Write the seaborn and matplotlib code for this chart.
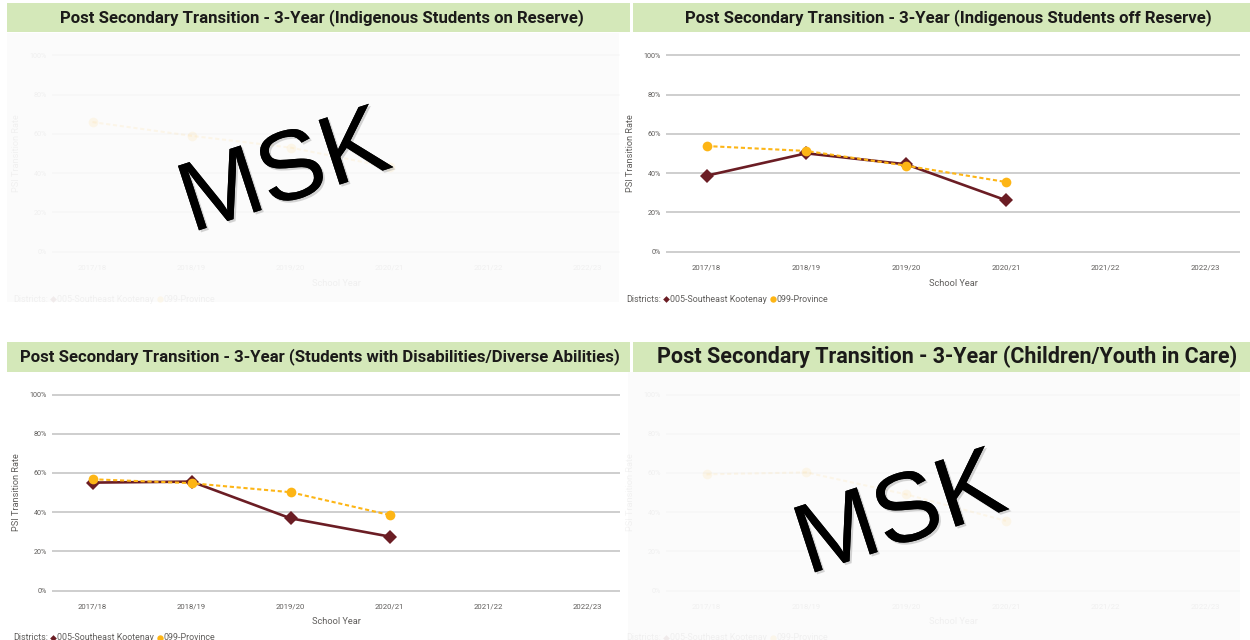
import numpy as np
import pandas as pd
import matplotlib
matplotlib.use("Agg")
import matplotlib.pyplot as plt
import seaborn as sns
from matplotlib import font_manager
from matplotlib.patches import Rectangle
from matplotlib.lines import Line2D
import matplotlib.patheffects as pe

# ---------------------------------------------------------------- data
years = ["2017/18", "2018/19", "2019/20", "2020/21", "2021/22", "2022/23"]
district_name = "005-Southeast Kootenay"
province_name = "099-Province"

on_reserve_district = [np.nan, np.nan, np.nan, np.nan, np.nan, np.nan]
on_reserve_province = [66.0, 59.0, 53.0, 43.0, np.nan, np.nan]

off_reserve_district = [38.7, 50.1, 44.5, 26.2, np.nan, np.nan]
off_reserve_province = [53.8, 51.3, 43.8, 35.5, np.nan, np.nan]

diverse_district = [55.1, 55.6, 36.9, 27.6, np.nan, np.nan]
diverse_province = [56.8, 54.8, 50.2, 38.6, np.nan, np.nan]

in_care_district = [np.nan, np.nan, np.nan, np.nan, np.nan, np.nan]
in_care_province = [59.3, 60.3, 49.1, 35.6, np.nan, np.nan]

y_ticks = [0, 20, 40, 60, 80, 100]
y_tick_labels = ["0%", "20%", "40%", "60%", "80%", "100%"]

titles = [
    "Post Secondary Transition - 3-Year (Indigenous Students on Reserve)",
    "Post Secondary Transition - 3-Year (Indigenous Students off Reserve)",
    "Post Secondary Transition - 3-Year (Students with Disabilities/Diverse Abilities)",
    "Post Secondary Transition - 3-Year (Children/Youth in Care)",
]
mask_label = "MSK"

# ---------------------------------------------------------------- style
MAROON = "#6b1d24"
GOLD = "#fdb515"
BAR = "#d4e8b9"
GRID = "#c6c6c6"
LABEL = "#605e5c"
TITLE_COL = "#1b1a19"
FADE_BG = "#fbfbfb"

sns.set_theme(style="white")
installed = {f.name for f in font_manager.fontManager.ttflist}
NARROW = "Liberation Sans Narrow" if "Liberation Sans Narrow" in installed else "Roboto"
plt.rcParams["font.family"] = [NARROW, "DejaVu Sans"]

W, H = 1250, 640
fig = plt.figure(figsize=(W / 100, H / 100), dpi=100)
fig.patch.set_facecolor("white")
renderer = fig.canvas.get_renderer()


def fx(px):
    return px / W


def fy(py):
    return 1 - py / H


def box(x0, y0, x1, y1, color, z=-1):
    fig.patches.append(Rectangle((fx(x0), fy(y1)), (x1 - x0) / W, (y1 - y0) / H,
                                 transform=fig.transFigure, facecolor=color,
                                 edgecolor="none", zorder=z))


def size_for(text, target_px, weight="normal"):
    t = fig.text(0, 0, text, fontsize=10, fontweight=weight)
    w = t.get_window_extent(renderer).width
    t.remove()
    return 10 * target_px / w


def text_width(t):
    return t.get_window_extent(renderer).width


TICK_FS = size_for("2017/18", 29)
YTICK_FS = size_for("100%", 17.5)
XLAB_FS = size_for("School Year", 49)
YLAB_FS = size_for("PSI Transition Rate", 78)
LEG_FS = size_for("005-Southeast Kootenay", 97)

# geometry of the two columns and two rows (pixels)
cols = {
    "L": dict(g0=52, g1=620, pos0=92.5, step=99.0, bar=(7, 630), ylab=17, leg=13,
              fade=(7, 619)),
    "R": dict(g0=666, g1=1240, pos0=706.5, step=99.8, bar=(633, 1250), ylab=630, leg=626,
              fade=(628, 1240)),
}
rows = {
    "T": dict(y100=55.3, y0=251.7, bar=(3, 32), title_y=17.5, leg=299, fade=(33, 302)),
    "B": dict(y100=394.5, y0=590.7, bar=(342, 372), title_y=357, leg=637.5, fade=(372, 640)),
}

panels = [
    dict(title=titles[0], d=on_reserve_district, p=on_reserve_province, faded=True,
         c="L", r="T", tx=321.5, tw=523, mask=(282, 166)),
    dict(title=titles[1], d=off_reserve_district, p=off_reserve_province, faded=False,
         c="R", r="T", tx=948.5, tw=527),
    dict(title=titles[2], d=diverse_district, p=diverse_province, faded=False,
         c="L", r="B", tx=320, tw=602),
    dict(title=titles[3], d=in_care_district, p=in_care_province, faded=True,
         c="R", r="B", tx=947.5, tw=581, mask=(898, 508)),
]


def legend(x0, yc, faded):
    a = 0.07 if faded else 1.0
    kw = dict(fontsize=LEG_FS, va="center", ha="left", color=LABEL, alpha=a)
    x = x0
    t = fig.text(fx(x), fy(yc), "Districts:", **kw)
    x += text_width(t) + 5
    fig.add_artist(Line2D([fx(x)], [fy(yc)], marker="D", markersize=3.4,
                          color=MAROON, markeredgewidth=0, alpha=a,
                          transform=fig.transFigure))
    x += 4
    t = fig.text(fx(x), fy(yc), district_name, **kw)
    x += text_width(t) + 6
    fig.add_artist(Line2D([fx(x)], [fy(yc)], marker="o", markersize=4.6,
                          color=GOLD, markeredgewidth=0, alpha=a,
                          transform=fig.transFigure))
    x += 3.5
    fig.text(fx(x), fy(yc), province_name, **kw)


for pn in panels:
    c, r = cols[pn["c"]], rows[pn["r"]]
    faded = pn["faded"]
    a_txt = 0.07 if faded else 1.0

    # title bar
    box(c["bar"][0], r["bar"][0], c["bar"][1], r["bar"][1], BAR)
    fs = size_for(pn["title"], pn["tw"], weight="bold")
    fig.text(fx(pn["tx"]), fy(r["title_y"]), pn["title"], ha="center", va="center",
             fontsize=fs, fontweight="bold", color=TITLE_COL)

    if faded:
        box(c["fade"][0], r["fade"][0], c["fade"][1], r["fade"][1], FADE_BG)

    # plot area, padded 10 px above 100% and below 0%
    pad_px = 10
    ytop, ybot = r["y100"] - pad_px, r["y0"] + pad_px
    ax = fig.add_axes([fx(c["g0"]), fy(ybot), (c["g1"] - c["g0"]) / W, (ybot - ytop) / H])
    ax.patch.set_alpha(0)
    upp = 100 / (r["y0"] - r["y100"])
    ax.set_ylim(-pad_px * upp, 100 + pad_px * upp)
    ax.set_xlim((c["g0"] - c["pos0"]) / c["step"], (c["g1"] - c["pos0"]) / c["step"])

    frames = []
    for name, vals in ((district_name, pn["d"]), (province_name, pn["p"])):
        frames.append(pd.DataFrame({"pos": np.arange(len(years)), "year": years,
                                    "rate": vals, "district": name}))
    df = pd.concat(frames).dropna(subset=["rate"])
    present = [n for n in (district_name, province_name) if n in set(df["district"])]

    sns.lineplot(data=df, x="pos", y="rate", hue="district", style="district",
                 hue_order=present, style_order=present,
                 palette={district_name: MAROON, province_name: GOLD},
                 markers={district_name: "D", province_name: "o"},
                 dashes={district_name: "", province_name: (2, 1.3)},
                 markeredgewidth=0, legend=False, sort=True, ax=ax,
                 alpha=0.08 if faded else 1.0)
    for ln in ax.lines:
        if ln.get_marker() == "D":
            ln.set_markersize(7.0)
            ln.set_linewidth(1.9)
        else:
            ln.set_markersize(7.0)
            ln.set_linewidth(1.5)
        ln.set_clip_on(False)
        ln.set_zorder(3)

    ax.set_yticks(y_ticks)
    ax.set_yticklabels(y_tick_labels)
    ax.set_xticks(np.arange(len(years)))
    ax.set_xticklabels(years)
    ax.grid(axis="y", color=GRID, linewidth=1.2, alpha=0.07 if faded else 1.0)
    ax.grid(axis="x", visible=False)
    ax.set_axisbelow(True)
    sns.despine(ax=ax, left=True, bottom=True)
    ax.tick_params(axis="y", length=0, pad=3.6, labelsize=YTICK_FS, labelcolor=LABEL)
    ax.tick_params(axis="x", length=0, pad=2.2, labelsize=TICK_FS, labelcolor=LABEL)
    for t in ax.get_xticklabels() + ax.get_yticklabels():
        t.set_alpha(a_txt)

    axh = ybot - ytop
    ax.set_xlabel("School Year", fontsize=XLAB_FS, color=LABEL, alpha=a_txt)
    ax.xaxis.label.set_va("center")
    ax.xaxis.set_label_coords(0.5, -(r["y0"] + 31.3 - ybot) / axh)
    ax.set_ylabel("PSI Transition Rate", fontsize=YLAB_FS, color=LABEL, alpha=a_txt)
    ax.yaxis.label.set_va("center")
    ax.yaxis.set_label_coords(-(c["g0"] - c["ylab"]) / (c["g1"] - c["g0"]), 0.5)

    legend(c["leg"], r["leg"], faded)

    if faded:
        mx, my = pn["mask"]
        fig.text(fx(mx), fy(my), mask_label, fontsize=71, rotation=18,
                 rotation_mode="anchor", ha="center", va="center_baseline",
                 family="Liberation Sans", color="black", zorder=10,
                 path_effects=[pe.withSimplePatchShadow(offset=(1.5, -1.5),
                                                        shadow_rgbFace="#888888",
                                                        alpha=0.35),
                               pe.Normal()])

fig.savefig("out.png", dpi=100, facecolor="white")
